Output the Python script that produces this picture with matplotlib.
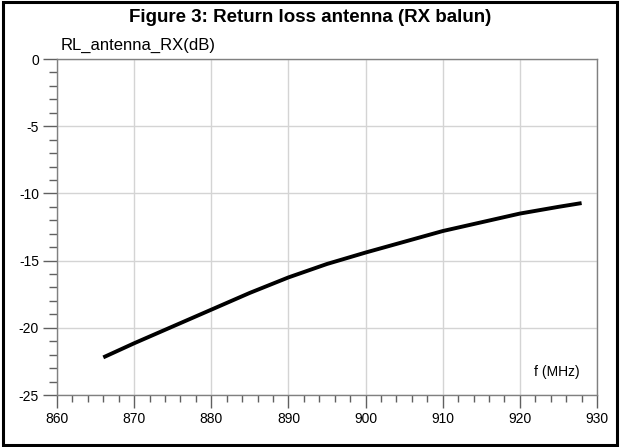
import numpy as np
import matplotlib.pyplot as plt
from matplotlib.patches import Rectangle
from matplotlib.ticker import MultipleLocator

plt.rcParams['font.family'] = ['Liberation Sans', 'DejaVu Sans']

# return loss
freq = [866, 870, 875, 880, 885, 890, 895, 900, 905, 910, 915, 920, 925, 928]
rl_db = [-22.2, -21.15, -19.9, -18.65, -17.4, -16.25, -15.25, -14.4, -13.6,
         -12.8, -12.15, -11.5, -11.0, -10.72]

xticks = [860, 870, 880, 890, 900, 910, 920, 930]
yticks = [0, -5, -10, -15, -20, -25]

fig = plt.figure(figsize=(6.21, 4.47), dpi=100)
ax = fig.add_axes([0.0918, 0.1163, 0.8696, 0.7517])

ax.plot(freq, rl_db, color='black', linewidth=2.8, solid_capstyle='butt',
        solid_joinstyle='round')

ax.set_xlim(860, 930)
ax.set_ylim(-25, 0)
ax.set_xticks(xticks)
ax.set_yticks(yticks)
ax.set_yticklabels([str(v) for v in yticks])
ax.xaxis.set_minor_locator(MultipleLocator(2))
ax.yaxis.set_minor_locator(MultipleLocator(1))

ax.grid(True, which='major', color='#d4d4d4', linewidth=1.0)
ax.set_axisbelow(True)
for s in ax.spines.values():
    s.set_color('#808080')
    s.set_linewidth(1.0)

ax.tick_params(axis='y', which='major', direction='out', length=10, width=1.0,
               color='#606060', labelsize=10, pad=3)
ax.tick_params(axis='y', which='minor', direction='out', length=6, width=1.0,
               color='#606060')
ax.tick_params(axis='x', which='major', direction='out', length=9, width=1.0,
               color='#606060', labelsize=10, pad=3)
ax.tick_params(axis='x', which='minor', direction='out', length=5, width=1.0,
               color='#606060')

ax.text(0.006, 1.027, 'RL_antenna_RX(dB)', transform=ax.transAxes,
        fontsize=12, ha='left', va='baseline')
ax.text(0.9685, 0.068, 'f (MHz)', transform=ax.transAxes,
        fontsize=10, ha='right', va='center')

fig.text(0.5, 0.96, 'Figure 3: Return loss antenna (RX balun)',
         fontsize=13.5, fontweight='bold', ha='center', va='center')

# frame round the whole figure
fig.patches.append(Rectangle((0.005, 0.004), 0.989, 0.992,
                             transform=fig.transFigure, fill=False,
                             edgecolor='black', linewidth=2.2))

plt.savefig('out.png', dpi=100)
